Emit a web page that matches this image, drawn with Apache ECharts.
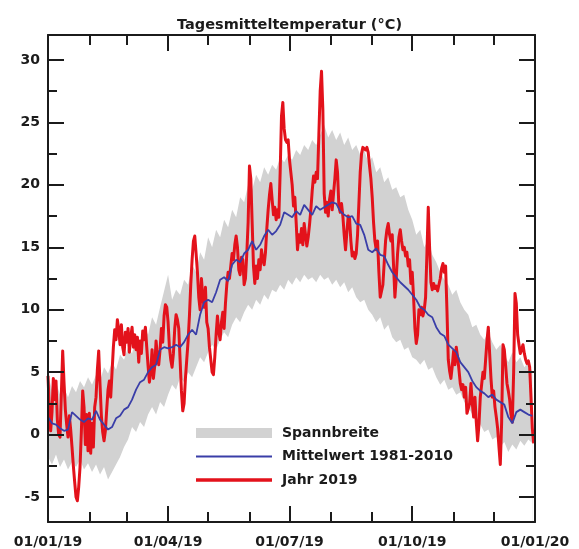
<!DOCTYPE html>
<html>
<head>
<meta charset="utf-8">
<script src="https://cdn.jsdelivr.net/npm/echarts@6/dist/echarts.min.js"></script>
<style>
html,body{margin:0;padding:0;background:#fff;}
#chart{width:579px;height:549px;}
</style>
</head>
<body>
<div id="chart"></div>
<script>
// ---------- DATA ----------
const titleText = 'Tagesmitteltemperatur (°C)';
const seriesNames = ['Spannbreite', 'Mittelwert 1981-2010', 'Jahr 2019'];

// x axis: day of year (0 = 01/01/19, 365 = 01/01/20)
const xMajorDays = [0, 90, 181, 273, 365];
const xTickLabels = ['01/01/19', '01/04/19', '01/07/19', '01/10/19', '01/01/20'];
const xMinorDays = [31, 59, 120, 151, 212, 243, 304, 334];
const yMajor = [-5, 0, 5, 10, 15, 20, 25, 30];
const yMinor = [-2.5, 2.5, 7.5, 12.5, 17.5, 22.5, 27.5];

// Daily mean temperature 2019 (one value per day, 01/01 .. 31/12)
const year2019 = [
  // Jan
  4.7, 2.0, 0.3, 1.8, 4.5, 2.8, 4.3, 1.2, 0.0, -0.2, 3.2, 6.7, 4.2, 2.0, 0.8, -0.2, 1.5, 0.4, -1.0, -2.5, -3.8, -5.0, -5.3, -4.2, -2.6, 0.2, 3.5, 2.2, -0.8, 1.6, -1.3,
  // Feb
  1.7, -1.5, 0.9, -1.0, 2.2, 3.0, 5.2, 6.7, 4.0, 1.5, 0.2, -0.5, 0.3, 2.0, 3.6, 4.3, 3.0, 5.0, 7.0, 8.4, 7.6, 9.2, 8.4, 7.2, 8.8, 7.0, 6.4, 8.2,
  // Mar
  7.4, 8.5, 6.6, 7.8, 8.6, 7.0, 8.0, 6.8, 7.8, 5.8, 7.5, 6.5, 8.3, 7.6, 8.6, 7.0, 5.5, 4.2, 5.0, 6.8, 4.5, 5.5, 7.5, 6.2, 5.6, 6.8, 8.5, 7.4, 9.5, 10.4, 10.2,
  // Apr
  9.0, 7.0, 6.0, 5.4, 6.5, 8.5, 9.6, 9.2, 8.5, 6.0, 3.5, 1.9, 2.5, 4.5, 6.0, 7.5, 9.5, 12.0, 14.0, 15.5, 15.9, 14.5, 13.0, 11.0, 10.0, 12.5, 11.0, 10.2, 11.8, 9.0,
  // May
  8.5, 7.0, 6.0, 5.0, 4.8, 6.2, 8.0, 9.5, 8.2, 7.6, 9.0, 9.8, 8.5, 10.5, 12.0, 13.0, 12.5, 13.5, 14.5, 14.0, 15.2, 15.9, 15.0, 13.2, 12.8, 14.2, 14.0, 12.0, 12.5, 14.5, 17.0,
  // Jun
  21.5, 20.5, 17.0, 13.5, 12.1, 13.5, 12.5, 14.0, 13.2, 14.8, 14.0, 13.6, 14.6, 16.5, 18.0, 19.2, 20.1, 18.8, 17.6, 18.2, 17.2, 18.0, 17.4, 21.0, 25.5, 26.6, 24.5, 23.6, 23.4, 23.6,
  // Jul
  22.0, 21.0, 20.0, 18.3, 19.0, 17.0, 14.8, 16.0, 15.4, 16.5, 15.2, 16.9, 16.0, 15.1, 15.8, 16.8, 18.0, 19.5, 20.7, 20.2, 21.0, 20.5, 24.0, 27.5, 29.1, 26.0, 19.3, 17.8, 18.6, 17.5, 18.8,
  // Aug
  19.5, 18.0, 19.3, 20.5, 22.0, 21.0, 18.3, 17.8, 18.5, 17.5, 16.0, 14.8, 16.2, 17.5, 17.3, 15.5, 14.3, 14.6, 14.1, 14.5, 16.0, 18.5, 21.0, 22.5, 23.0, 23.1, 22.8, 23.0, 22.6, 21.5, 20.5,
  // Sep
  19.0, 17.0, 15.5, 14.8, 15.5, 13.0, 11.0, 11.5, 12.0, 13.8, 15.5, 16.4, 16.9, 16.0, 15.5, 16.0, 13.5, 11.0, 12.5, 14.5, 15.8, 16.4, 15.5, 14.8, 15.0, 14.3, 14.6, 13.5, 14.0, 12.1,
  // Oct
  13.0, 11.0, 8.5, 7.3, 8.0, 10.0, 9.6, 10.2, 9.5, 10.0, 11.0, 14.5, 18.2, 15.0, 12.2, 11.6, 12.1, 11.7, 11.9, 11.5, 12.0, 12.5, 13.3, 13.7, 13.0, 13.5, 10.0, 6.0, 5.1, 4.5, 5.5,
  // Nov
  6.7, 5.6, 7.0, 6.2, 5.2, 4.1, 3.6, 4.0, 3.0, 3.8, 1.7, 1.65, 2.5, 4.1, 2.5, 1.4, 3.0, 1.0, -0.5, 0.8, 3.0, 4.0, 5.0, 4.5, 6.0, 7.5, 8.6, 6.5, 4.5, 3.0,
  // Dec
  3.5, 2.2, 1.4, 0.5, -1.0, -2.4, 1.0, 7.2, 6.8, 5.5, 4.1, 3.5, 2.8, 1.6, 1.0, 5.0, 11.3, 10.5, 8.0, 7.2, 6.5, 6.8, 7.2, 6.5, 6.0, 5.7, 5.9, 5.4, 3.0, 0.5, -0.7
];

// Climate reference 1981-2010, one value every 3rd day (day 0, 3, 6, ... 363)
const climStep = 3;
const mean8110 = [
  1.4, 0.9, 0.8, 0.5, 0.3, 0.4, 1.8, 1.5, 1.2, 1.0, 1.3,
  1.2, 1.9, 1.2, 0.8, 0.4, 0.6, 1.3, 1.5, 2.0,
  2.2, 2.8, 3.6, 4.2, 4.4, 5.0, 5.4, 5.6, 6.8, 7.0,
  6.9, 7.0, 7.2, 7.0, 7.4, 8.0, 8.4, 8.0, 9.6, 10.6,
  10.8, 10.6, 11.4, 12.4, 12.6, 12.3, 13.6, 14.0, 13.8, 14.5, 14.8,
  15.5, 14.8, 15.2, 15.9, 16.4, 16.0, 16.3, 16.8, 17.8, 17.6,
  17.4, 17.9, 17.6, 18.4, 18.0, 17.6, 18.3, 18.0, 18.2, 18.4,
  18.6, 18.5, 17.9, 17.6, 17.4, 17.5, 16.9, 16.8, 16.0, 14.8,
  14.6, 14.9, 14.4, 14.3, 13.6, 13.0, 12.6, 12.2, 11.9, 11.6,
  11.2, 10.8, 10.2, 10.0, 9.6, 9.4, 8.6, 8.1, 7.9, 7.2, 6.9,
  6.6, 5.8, 5.4, 5.0, 4.3, 3.8, 3.5, 3.3, 3.0, 3.2,
  2.8, 2.6, 2.4, 1.4, 0.9, 1.8, 2.0, 1.8, 1.6, 1.5
];
const rangeUpper = [
  4.8, 3.6, 4.2, 3.2, 3.8, 3.0, 3.9, 3.4, 4.3, 3.8, 4.6,
  4.0, 4.8, 4.3, 5.4, 4.9, 5.8, 5.2, 6.4, 6.0,
  7.0, 6.5, 7.8, 7.2, 8.6, 8.0, 9.4, 8.8, 10.2, 11.5,
  12.8, 10.8, 11.6, 11.2, 12.4, 12.0, 13.6, 13.0, 14.6, 14.0,
  15.8, 15.0, 16.4, 15.8, 17.2, 16.6, 18.0, 17.4, 19.0, 18.6, 20.0,
  19.6, 20.8, 20.2, 21.4, 20.8, 21.6, 21.2, 22.2, 21.8, 22.4,
  22.0, 22.8, 22.4, 23.2, 22.8, 23.6, 23.2, 24.0, 24.8, 23.8,
  24.4, 23.6, 24.2, 23.2, 23.8, 22.8, 23.2, 22.4, 22.8, 21.8,
  22.2, 21.0, 21.4, 20.2, 20.6, 19.6, 19.8, 19.0, 19.2, 18.0,
  17.2, 16.0, 16.4, 15.0, 15.6, 14.4, 13.8, 13.0, 12.4, 12.0, 11.2,
  11.6, 10.6, 10.0, 9.6, 8.6, 8.8, 8.0, 7.6, 8.2, 7.4,
  6.8, 7.2, 6.4, 5.8, 6.6, 5.8, 6.2, 5.4, 5.8, 5.0
];
const rangeLower = [
  -1.8, -2.4, -1.6, -2.6, -2.0, -2.8, -2.2, -2.6, -2.0, -2.8, -2.3,
  -3.0, -2.4, -3.2, -2.6, -3.6, -3.0, -2.4, -1.8, -1.0,
  -0.4, 0.6, 0.2, 1.0, 0.6, 1.6, 2.2, 1.6, 2.6, 2.2,
  3.2, 4.0, 3.6, 4.6, 4.2, 5.0, 4.6, 5.4, 6.2, 5.8,
  6.6, 7.2, 6.8, 7.6, 8.2, 7.8, 8.8, 9.4, 9.0, 9.8, 10.4,
  10.0, 10.8, 10.4, 11.2, 10.8, 11.6, 11.4, 12.0, 11.6, 12.4,
  12.0, 12.6, 12.2, 12.8, 12.4, 12.6, 12.2, 12.8, 12.4, 12.6,
  12.0, 12.4, 11.8, 12.2, 11.4, 11.8, 11.0, 10.6, 10.8, 10.0,
  9.6, 9.0, 9.4, 8.4, 8.8, 7.8, 7.4, 7.6, 6.8, 7.0,
  6.2, 6.0, 5.6, 6.0, 5.2, 5.4, 4.6, 4.0, 4.4, 3.6, 3.8,
  3.2, 3.4, 2.6, 2.2, 1.6, 1.8, 0.8, 0.2, 0.4, -0.4,
  -0.2, -1.0, -0.6, -1.4, -0.8, -1.2, -0.5, -0.9, -0.4, -0.7
];

// ---------- BUILD ----------
const dailyPairs = year2019.map((v, i) => [i, v]);
const meanPairs = mean8110.map((v, i) => [i * climStep, v]);
const lowerPairs = rangeLower.map((v, i) => [i * climStep, v]);
const upperPairs = rangeUpper.map((v, i) => [i * climStep, v]);

const INK = '#1b1b1b';
const FONT = 'DejaVu Sans';
const RED = '#e3121b';
const BLUE = '#3a3ea8';
const GREY = '#d2d2d2';

function xAx(pos, ticks, len, withLine, withLabel) {
  return {
    type: 'value', min: 0, max: 365, position: pos, z: 5,
    axisLine: { show: withLine, onZero: false, lineStyle: { color: INK, width: 2 } },
    axisTick: { show: true, inside: true, length: len, customValues: ticks, lineStyle: { color: INK, width: 2 } },
    axisLabel: withLabel ? {
      show: true, customValues: xMajorDays, margin: 13,
      formatter: v => xTickLabels[xMajorDays.indexOf(v)] || '',
      color: INK, fontFamily: FONT, fontWeight: 'bold', fontSize: 14
    } : { show: false },
    splitLine: { show: false }
  };
}
function yAx(pos, ticks, len, withLine, withLabel) {
  return {
    type: 'value', min: -7, max: 32, position: pos, z: 5,
    axisLine: { show: withLine, onZero: false, lineStyle: { color: INK, width: 2 } },
    axisTick: { show: true, inside: true, length: len, customValues: ticks, lineStyle: { color: INK, width: 2 } },
    axisLabel: withLabel ? {
      show: true, customValues: yMajor, margin: 8,
      color: INK, fontFamily: FONT, fontWeight: 'bold', fontSize: 14
    } : { show: false },
    splitLine: { show: false }
  };
}

const bluePath = 'path://M0,0L1,0L1,0Z M0,4.1L76,4.1L76,5.9L0,5.9Z M0,10L1,10L1,10Z';
const redPath = 'path://M0,0L1,0L1,0Z M0,3.2L76,3.2L76,6.8L0,6.8Z M0,10L1,10L1,10Z';

const option = {
  animation: false,
  backgroundColor: '#ffffff',
  title: {
    text: titleText, left: 'center', top: 13,
    textStyle: { color: INK, fontFamily: FONT, fontWeight: 'bold', fontSize: 14.5 }
  },
  grid: { left: 48, right: 44, top: 35, bottom: 27, containLabel: false, outerBoundsMode: 'none' },
  legend: {
    orient: 'vertical', left: 196, top: 426, itemWidth: 76, itemHeight: 10, itemGap: 9.5,
    padding: 0,
    selectedMode: false,
    itemStyle: { borderWidth: 0 },
    textStyle: { color: INK, fontFamily: FONT, fontWeight: 'bold', fontSize: 14, padding: [0, 0, 0, 5] },
    data: [
      { name: seriesNames[0], icon: 'rect' },
      { name: seriesNames[1], icon: bluePath },
      { name: seriesNames[2], icon: redPath }
    ]
  },
  xAxis: [
    xAx('bottom', xMajorDays, 16, true, true),
    xAx('bottom', xMinorDays, 10, false, false),
    xAx('top', xMajorDays, 16, true, false),
    xAx('top', xMinorDays, 10, false, false)
  ],
  yAxis: [
    yAx('left', yMajor, 16, true, true),
    yAx('left', yMinor, 9, false, false),
    yAx('right', yMajor, 16, true, false),
    yAx('right', yMinor, 9, false, false)
  ],
  series: [
    {
      // upper bound of the range, filled down to the bottom of the plot
      name: seriesNames[0], type: 'line', data: upperPairs,
      symbol: 'none', silent: true, lineStyle: { opacity: 0 },
      itemStyle: { color: GREY }, areaStyle: { color: GREY, opacity: 1, origin: 'start' }, z: 1
    },
    {
      // lower bound of the range, white fill below it cuts the band out
      name: 'lower', type: 'line', data: lowerPairs,
      symbol: 'none', silent: true, lineStyle: { opacity: 0 },
      itemStyle: { color: '#ffffff' }, areaStyle: { color: '#ffffff', opacity: 1, origin: 'start' }, z: 1
    },
    {
      name: seriesNames[2], type: 'line', data: dailyPairs, symbol: 'none', silent: true,
      itemStyle: { color: RED }, lineStyle: { color: RED, width: 3, join: 'round' }, z: 2
    },
    {
      name: seriesNames[1], type: 'line', data: meanPairs, symbol: 'none', silent: true,
      itemStyle: { color: BLUE }, lineStyle: { color: BLUE, width: 1.8 }, z: 3
    }
  ]
};

const chart = echarts.init(document.getElementById('chart'), null, { renderer: 'canvas' });
chart.setOption(option);
</script>
</body>
</html>
